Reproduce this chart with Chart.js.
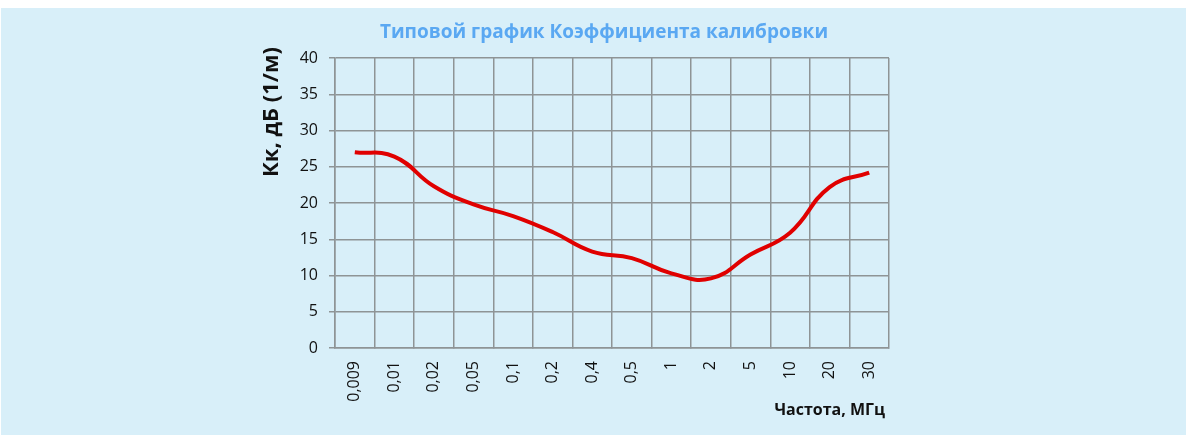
<!DOCTYPE html>
<html>
<head>
<meta charset="utf-8">
<script src="https://cdn.jsdelivr.net/npm/chart.js@4"></script>
<style>
  body { margin: 0; background: #fff; }
  #box { position: absolute; left: 1px; top: 8px; width: 1185px; height: 427px; background: #d8eff9; }
</style>
</head>
<body>
<div id="box"><canvas id="kkChart"></canvas></div>
<script>
const freqLabels = ["0,009", "0,01", "0,02", "0,05", "0,1", "0,2", "0,4", "0,5", "1", "2", "5", "10", "20", "30"];
const kkValues = [27.0, 26.4, 22.3, 19.8, 18.2, 16.0, 13.3, 12.4, 10.3, 9.6, 12.9, 15.9, 22.2, 24.2];
const yTicks = [0, 5, 10, 15, 20, 25, 30, 35, 40];

const chartTitle = "Типовой график Коэффициента калибровки";
const yTitle = "Кк, дБ (1/м)";
const xTitle = "Частота, МГц";

const gridColor = "#8e9496";
const fontFam = "'Open Sans', 'Noto Sans', sans-serif";

// title, rotated y title and x title drawn by hand so they sit where they are in the picture
const textPlugin = {
    id: "texts",
    afterDraw(chart) {
        const ctx = chart.ctx;
        ctx.save();
        ctx.fillStyle = "#5aa8f2";
        ctx.font = "bold 19px " + fontFam;
        ctx.textAlign = "center";
        ctx.textBaseline = "middle";
        ctx.fillText(chartTitle, 603, 25);

        ctx.fillStyle = "#111";
        ctx.font = "bold 16px " + fontFam;
        ctx.textAlign = "right";
        ctx.fillText(xTitle, 884, 402);

        ctx.translate(271, 104);
        ctx.rotate(-Math.PI / 2);
        ctx.textAlign = "center";
        ctx.font = "bold 22px " + fontFam;
        ctx.fillText(yTitle, 0, 0);
        ctx.restore();
    },
};

const ctx = document.getElementById("kkChart").getContext("2d");
new Chart(ctx, {
    type: "line",
    data: {
        labels: freqLabels,
        datasets: [
            {
                data: kkValues,
                borderColor: "#e00000",
                borderWidth: 4,
                pointRadius: 0,
                tension: 0.45,
                fill: false,
            },
        ],
    },
    options: {
        responsive: true,
        maintainAspectRatio: false,
        animation: false,
        layout: { padding: { left: 0, right: 297, top: 50, bottom: 0 } },
        plugins: {
            legend: { display: false },
            tooltip: { enabled: false },
        },
        scales: {
            x: {
                offset: true,
                grid: { offset: true, color: gridColor, lineWidth: 1.5, tickLength: 0 },
                border: { color: gridColor, width: 1.5 },
                ticks: {
                    color: "#111",
                    font: { family: fontFam, size: 16 },
                    minRotation: 90,
                    maxRotation: 90,
                    padding: 13,
                    autoSkip: false,
                },
                afterFit(scale) { scale.height = 87; },
            },
            y: {
                min: 0,
                max: 40,
                afterBuildTicks(scale) { scale.ticks = yTicks.map(v => ({ value: v })); },
                grid: { color: gridColor, lineWidth: 1.5, tickLength: 6 },
                border: { color: gridColor, width: 1.5 },
                ticks: {
                    color: "#111",
                    font: { family: fontFam, size: 16 },
                    padding: 11,
                },
                afterFit(scale) { scale.width = 334; },
            },
        },
    },
    plugins: [textPlugin],
});
</script>
</body>
</html>
